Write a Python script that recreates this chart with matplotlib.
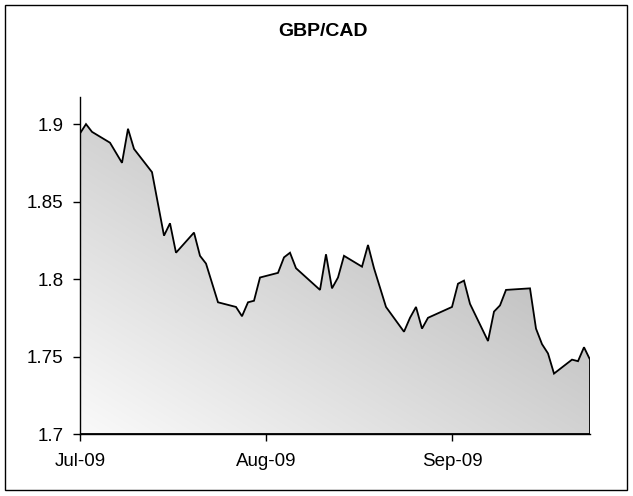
import numpy as np
import pandas as pd
import matplotlib
matplotlib.use("Agg")
import matplotlib.pyplot as plt
import matplotlib.dates as mdates
from matplotlib.patches import Polygon, Rectangle

plt.rcParams["font.family"] = ["Liberation Sans", "DejaVu Sans"]

# GBP/CAD daily closes
dates = [
    "2009-07-01", "2009-07-02", "2009-07-03", "2009-07-06", "2009-07-08",
    "2009-07-09", "2009-07-10", "2009-07-13", "2009-07-15", "2009-07-16",
    "2009-07-17", "2009-07-20", "2009-07-21", "2009-07-22", "2009-07-24",
    "2009-07-27", "2009-07-28", "2009-07-29", "2009-07-30", "2009-07-31",
    "2009-08-03", "2009-08-04", "2009-08-05", "2009-08-06", "2009-08-10",
    "2009-08-11", "2009-08-12", "2009-08-13", "2009-08-14", "2009-08-17",
    "2009-08-18", "2009-08-19", "2009-08-21", "2009-08-24", "2009-08-25",
    "2009-08-26", "2009-08-27", "2009-08-28", "2009-09-01", "2009-09-02",
    "2009-09-03", "2009-09-04", "2009-09-07", "2009-09-08", "2009-09-09",
    "2009-09-10", "2009-09-14", "2009-09-15", "2009-09-16", "2009-09-17",
    "2009-09-18", "2009-09-21", "2009-09-22", "2009-09-23", "2009-09-24",
]
rates = [
    1.894, 1.900, 1.895, 1.888, 1.875,
    1.897, 1.884, 1.869, 1.828, 1.836,
    1.817, 1.830, 1.815, 1.810, 1.785,
    1.782, 1.776, 1.785, 1.786, 1.801,
    1.804, 1.814, 1.817, 1.807, 1.793,
    1.816, 1.794, 1.801, 1.815, 1.808,
    1.822, 1.807, 1.782, 1.766, 1.775,
    1.782, 1.768, 1.775, 1.782, 1.797,
    1.799, 1.784, 1.760, 1.779, 1.783,
    1.793, 1.794, 1.768, 1.758, 1.752,
    1.739, 1.748, 1.747, 1.756, 1.748,
]
tick_dates = ["2009-07-01", "2009-08-01", "2009-09-01"]
tick_labels = ["Jul-09", "Aug-09", "Sep-09"]
y_ticks = [1.7, 1.75, 1.8, 1.85, 1.9]
y_labels = ["1.7", "1.75", "1.8", "1.85", "1.9"]

BASE = 1.7
TOP = 1.9175

x = mdates.date2num(pd.to_datetime(dates))
y = np.array(rates)

fig = plt.figure(figsize=(6.33, 4.96), dpi=100)
ax = fig.add_axes([80 / 633, 1 - 434 / 496, 510 / 633, 337 / 496])

# outer chart border
fig.patches.append(Rectangle((5 / 633, 6 / 496), 622 / 633, 485 / 496,
                             transform=fig.transFigure, fill=False,
                             edgecolor="black", linewidth=1.0))

# area outline
verts = [(x[0], BASE)] + list(zip(x, y)) + [(x[-1], BASE)]
area = Polygon(verts, closed=True, facecolor="none", edgecolor="black",
               linewidth=1.3, zorder=3)
ax.add_patch(area)

# diagonal gradient: light bottom-left to darker top-right
ny, nx = 200, 400
u = np.linspace(0, 1, nx)[None, :]
v = np.linspace(0, 1, ny)[:, None]
g = (u + v) / 2
shade = 0.98 - 0.31 * g
img = np.dstack([shade, shade, shade])
im = ax.imshow(img, origin="lower", aspect="auto",
               extent=[x[0], x[-1], BASE, y.max()], zorder=2,
               interpolation="bilinear")
im.set_clip_path(area)

ax.set_xlim(x[0], x[-1])
ax.set_ylim(BASE, TOP)

ax.set_xticks(mdates.date2num(pd.to_datetime(tick_dates)))
ax.set_xticklabels(tick_labels)
ax.set_yticks(y_ticks)
ax.set_yticklabels(y_labels)

ax.tick_params(axis="both", direction="out", length=5, width=1,
               labelsize=13.5, colors="black")
ax.tick_params(axis="x", pad=9)
ax.tick_params(axis="y", pad=7)

for s in ["top", "right"]:
    ax.spines[s].set_visible(False)
for s in ["left", "bottom"]:
    ax.spines[s].set_linewidth(1.0)
    ax.spines[s].set_color("black")
    ax.spines[s].set_zorder(4)

fig.text(323 / 633, 1 - 32 / 496, "GBP/CAD", ha="center", va="center",
         fontsize=14, fontweight="bold")

fig.savefig("out.png", dpi=100)
